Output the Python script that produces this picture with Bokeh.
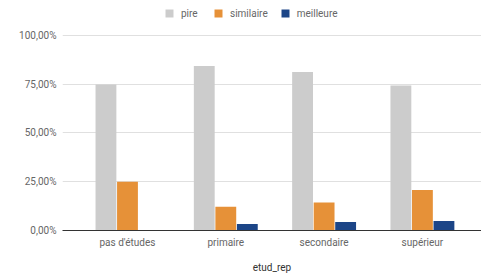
from bokeh.plotting import figure
from bokeh.models import ColumnDataSource, Range1d, FixedTicker, Legend, LegendItem
from bokeh.transform import dodge
from bokeh.embed import file_html
from bokeh.resources import INLINE

categories = ["pas d'études", "primaire", "secondaire", "supérieur"]
pire = [0.748, 0.842, 0.812, 0.743]
similaire = [0.250, 0.122, 0.144, 0.207]
meilleure = [0.0, 0.033, 0.043, 0.049]
series_names = ["pire", "similaire", "meilleure"]
colors = ["#cccccc", "#e69138", "#1c4587"]
y_ticks = [0, 0.25, 0.5, 0.75, 1.0]
y_tick_labels = ["0,00%", "25,00%", "50,00%", "75,00%", "100,00%"]

FONT = "Roboto"

x_pos = [i + 0.5 for i in range(len(categories))]
src = ColumnDataSource(dict(x=x_pos, pire=pire, similaire=similaire, meilleure=meilleure))

# frame spans full height above the axis; the extra headroom holds the legend
p = figure(width=481, height=275, output_backend="svg", toolbar_location=None,
           x_range=Range1d(-0.161, 4.101), y_range=Range1d(0, 232 / 197))
p.min_border_left = 62
p.min_border_right = 0
p.min_border_top = 0
p.min_border_bottom = 43
p.outline_line_color = None
p.background_fill_color = "white"
p.border_fill_color = "white"

offsets = [-0.219, 0.0, 0.219]
renderers = []
for name, col, off in zip(series_names, colors, offsets):
    r = p.vbar(x=dodge("x", off), top=name, width=0.212,
               source=src, fill_color=col, line_color=None)
    renderers.append(r)

p.xgrid.visible = False
p.ygrid.grid_line_color = "#e0e0e0"
p.ygrid.ticker = FixedTicker(ticks=y_ticks)

p.xaxis.ticker = FixedTicker(ticks=x_pos)
p.xaxis.major_label_overrides = {x: c for x, c in zip(x_pos, categories)}
p.xaxis.major_tick_line_color = None
p.xaxis.minor_tick_line_color = None
p.xaxis.axis_line_color = "#333333"
p.xaxis.major_label_text_font = FONT
p.xaxis.major_label_text_font_size = "10px"
p.xaxis.major_label_text_color = "#666666"
p.xaxis.major_label_standoff = 0
p.xaxis.axis_label = "etud_rep"
p.xaxis.axis_label_text_font = FONT
p.xaxis.axis_label_text_font_size = "10px"
p.xaxis.axis_label_text_font_style = "normal"
p.xaxis.axis_label_text_color = "#333333"
p.xaxis.axis_label_standoff = 11

p.yaxis.ticker = FixedTicker(ticks=y_ticks)
p.yaxis.major_label_overrides = {t: l for t, l in zip(y_ticks, y_tick_labels)}
p.yaxis.axis_line_color = None
p.yaxis.major_tick_line_color = None
p.yaxis.minor_tick_line_color = None
p.yaxis.major_label_text_font = FONT
p.yaxis.major_label_text_font_size = "10px"
p.yaxis.major_label_text_color = "#666666"
p.yaxis.major_label_standoff = 0

legend = Legend(items=[LegendItem(label=n, renderers=[r]) for n, r in zip(series_names, renderers)],
                orientation="horizontal", location=(102, 211))
legend.label_text_font = FONT
legend.label_text_font_size = "10px"
legend.label_text_color = "#666666"
legend.glyph_width = 10
legend.glyph_height = 10
legend.label_standoff = 7
legend.spacing = 12
legend.padding = 2
legend.margin = 0
legend.border_line_color = None
legend.background_fill_alpha = 0
legend.label_height = 12
p.add_layout(legend, "center")

open("out.html", "w").write(file_html(p, INLINE))
